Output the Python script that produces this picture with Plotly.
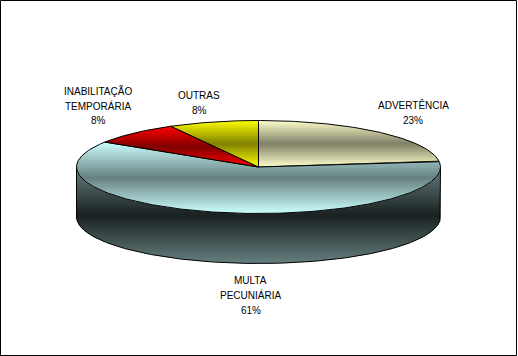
import math
import plotly.graph_objects as go

categories = ["ADVERTÊNCIA", "MULTA PECUNIÁRIA", "INABILITAÇÃO TEMPORÁRIA", "OUTRAS"]
values = [23, 61, 8, 8]
light_colors = [(255, 255, 204), (204, 255, 255), (255, 0, 0), (255, 255, 0)]
dark_colors = [(127, 127, 102), (102, 127, 127), (128, 0, 0), (128, 128, 0)]
label_lines = [["ADVERTÊNCIA", "23%"], ["MULTA", "PECUNIÁRIA", "61%"],
               ["INABILITAÇÃO", "TEMPORÁRIA", "8%"], ["OUTRAS", "8%"]]
label_x = [413, 250.5, 98, 199]
label_y = [105, 280, 90.5, 95]

W, H = 518, 356
CX, CY, RX, RY, DEPTH = 258.5, 167, 182, 46.5, 50
SIDE_LIGHT, SIDE_DARK = (102, 127, 127), (26, 33, 33)
STEP = 2


def pt(deg, dy=0):
    a = math.radians(deg)
    return CX + RX * math.sin(a), CY - RY * math.cos(a) + dy


def arc(a0, a1, dy=0):
    n = max(2, int(abs(a1 - a0) * 1.5))
    return [pt(a0 + (a1 - a0) * i / n, dy) for i in range(n + 1)]


def clip(poly, y, keep_above):
    out = []
    for i, p in enumerate(poly):
        q = poly[(i + 1) % len(poly)]
        pin = p[1] <= y if keep_above else p[1] >= y
        qin = q[1] <= y if keep_above else q[1] >= y
        if pin:
            out.append(p)
        if pin != qin:
            t = (y - p[1]) / (q[1] - p[1])
            out.append((p[0] + t * (q[0] - p[0]), y))
    return out


def mix(c0, c1, t):
    return "rgb(%d,%d,%d)" % tuple(round(a + (b - a) * t) for a, b in zip(c0, c1))


def add_gradient(fig, poly, light, dark, ytop, ybot):
    mid = (ytop + ybot) / 2
    y = math.floor(min(p[1] for p in poly))
    yend = math.ceil(max(p[1] for p in poly))
    while y < yend:
        band = clip(clip(poly, y, False), y + STEP, True)
        if len(band) >= 3:
            t = 1 - min(1, abs(y + STEP / 2 - mid) / ((ybot - ytop) / 2))
            fig.add_trace(go.Scatter(
                x=[p[0] for p in band] + [band[0][0]],
                y=[p[1] for p in band] + [band[0][1]],
                mode="lines", fill="toself", fillcolor=mix(light, dark, t),
                line=dict(width=0), hoverinfo="skip", showlegend=False))
        y += STEP


def add_outline(fig, pts):
    fig.add_trace(go.Scatter(x=[p[0] for p in pts], y=[p[1] for p in pts], mode="lines",
                             line=dict(color="black", width=1), hoverinfo="skip", showlegend=False))


fig = go.Figure()

# side wall (front half of the disc)
side = arc(90, 270) + arc(270, 90, DEPTH)
add_gradient(fig, side, SIDE_LIGHT, SIDE_DARK, CY, CY + RY + DEPTH)
add_outline(fig, [pt(90)] + arc(90, 270, DEPTH) + [pt(270)])

# top faces
total = sum(values)
start = 0.0
for v, lc, dc in zip(values, light_colors, dark_colors):
    end = start + 360.0 * v / total
    poly = [(CX, CY)] + arc(start, end)
    ys = [p[1] for p in poly]
    add_gradient(fig, poly, lc, dc, min(ys), max(ys))
    add_outline(fig, poly + [poly[0]])
    start = end

ann = []
for lines, lx, ly in zip(label_lines, label_x, label_y):
    for i, t in enumerate(lines):
        ann.append(dict(x=lx, y=ly + i * 15, xref="x", yref="y", text=t, showarrow=False,
                        xanchor="center", yanchor="middle",
                        font=dict(family="Liberation Sans", size=10, color="black")))

fig.update_layout(
    width=W, height=H, margin=dict(l=0, r=0, t=0, b=0), autosize=False,
    paper_bgcolor="white", plot_bgcolor="white", showlegend=False,
    xaxis=dict(range=[0, W], visible=False, fixedrange=True),
    yaxis=dict(range=[H, 0], visible=False, fixedrange=True),
    annotations=ann,
    shapes=[dict(type="rect", xref="x", yref="y", x0=0.5, y0=0.5, x1=W - 1.5, y1=H - 0.5,
                 line=dict(color="black", width=1))],
)
fig.write_html("out.html", config={"displayModeBar": False},
               post_script="document.body.style.margin='0';")
